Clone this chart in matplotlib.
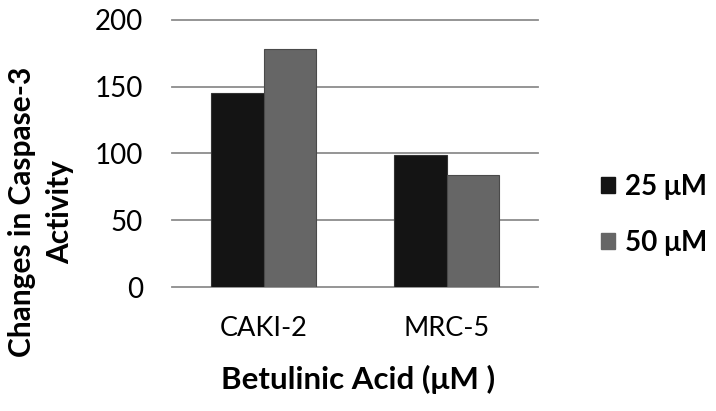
import matplotlib
matplotlib.use("Agg")
import matplotlib.pyplot as plt
import matplotlib.patches as mpatches
import numpy as np

plt.rcParams['font.family'] = ['Lato', 'DejaVu Sans']

cells = ['CAKI-2', 'MRC-5']
dose_25 = [145, 99]
dose_50 = [178, 84]
series_names = ['25 μM', '50 μM']
yticks = [0, 50, 100, 150, 200]

fig = plt.figure(figsize=(7.16, 4.11), dpi=100)
ax = fig.add_axes([172/716, 1-287/411, (538-172)/716, (287-20)/411])

x = np.arange(len(cells))
w = 0.285
c1, c2 = '#141414', '#666666'
ax.bar(x - w/2, dose_25, w, color=c1, edgecolor='#333333', lw=0.8, zorder=3)
ax.bar(x + w/2, dose_50, w, color=c2, edgecolor='#4a4a4a', lw=0.8, zorder=3)

ax.set_xlim(-0.5, 1.5)
ax.set_ylim(0, 200)
ax.set_yticks(yticks)
for v in yticks:
    ax.axhline(v, color='#8c8c8c', lw=1.3, zorder=1, clip_on=False)
for s in ax.spines.values():
    s.set_visible(False)
ax.set_xticks(x)
ax.set_xticklabels(cells)
ax.tick_params(axis='y', length=0, pad=21, labelsize=20, labelcolor='#000000')
ax.tick_params(axis='x', length=0, pad=21, labelsize=19.5, labelcolor='#000000')

fig.text(0.057, 0.485, 'Changes in Caspase-3\nActivity', rotation=90, ha='center',
         va='center', multialignment='center', fontsize=21.5, fontweight='bold',
         linespacing=1.45, color='#000000')
fig.text(358/716, 1-379/411, 'Betulinic Acid (μM )', ha='center', va='center',
         fontsize=22.5, fontweight='bold', color='#000000')

handles = [mpatches.Patch(color=c1), mpatches.Patch(color=c2)]
leg = fig.legend(handles, series_names, loc='center left',
                 bbox_to_anchor=(576/716, 1-215/411), frameon=False,
                 prop={'size': 20, 'weight': 'bold'}, handlelength=0.5,
                 handleheight=0.5, handletextpad=0.35, labelspacing=1.1)

fig.savefig('out.png', dpi=100)
